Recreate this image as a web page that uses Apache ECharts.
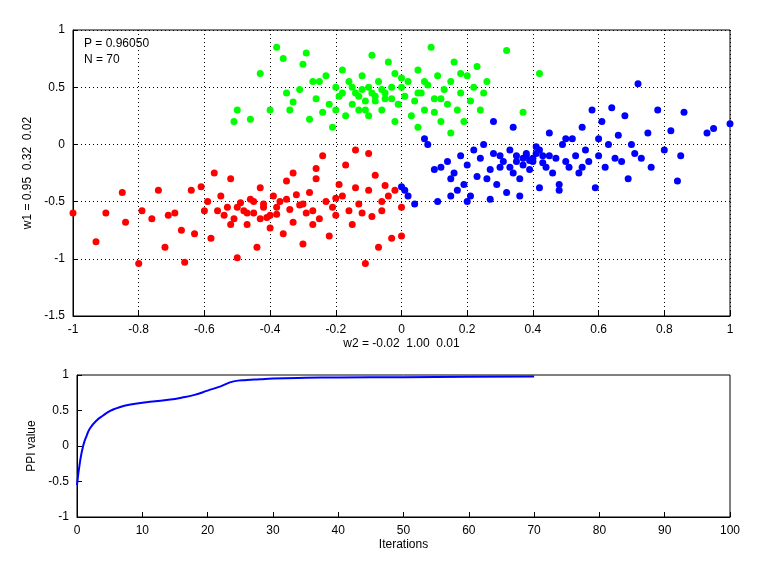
<!DOCTYPE html>
<html>
<head>
<meta charset="utf-8">
<script src="https://cdn.jsdelivr.net/npm/echarts@6/dist/echarts.min.js"></script>
<style>html,body{margin:0;padding:0;background:#fff}#c{width:768px;height:576px}</style>
</head>
<body>
<div id="c"></div>
<script>
// cluster points (x = w2 projection, y = w1 projection)
var redPts=[[-1,-0.6],[-0.93,-0.85],[-0.9,-0.6],[-0.85,-0.42],[-0.84,-0.68],[-0.8,-1.04],[-0.79,-0.58],
[-0.76,-0.65],[-0.74,-0.4],[-0.72,-0.9],[-0.71,-0.62],[-0.69,-0.6],[-0.67,-0.75],[-0.66,-1.03],[-0.63,-0.78],
[-0.61,-0.37],[-0.6,-0.58],[-0.59,-0.5],[-0.58,-0.82],[-0.57,-0.25],[-0.55,-0.45],[-0.54,-0.62],[-0.53,-0.55],
[-0.52,-0.3],[-0.51,-0.65],[-0.5,-0.99],[-0.49,-0.51],[-0.48,-0.58],[-0.47,-0.7],[-0.46,-0.48],[-0.45,-0.6],
[-0.44,-0.9],[-0.43,-0.38],[-0.42,-0.55],[-0.41,-0.64],[-0.4,-0.73],[-0.39,-0.45],[-0.38,-0.61],[-0.37,-0.5],
[-0.36,-0.78],[-0.35,-0.32],[-0.34,-0.57],[-0.33,-0.68],[-0.32,-0.44],[-0.31,-0.53],[-0.3,-0.87],[-0.29,-0.6],
[-0.28,-0.42],[-0.27,-0.58],[-0.26,-0.3],[-0.25,-0.65],[-0.24,-0.1],[-0.23,-0.5],[-0.22,-0.8],[-0.21,-0.55],
[-0.2,-0.62],[-0.19,-0.35],[-0.18,-0.45],[-0.17,-0.18],[-0.16,-0.58],[-0.15,-0.7],[-0.14,-0.38],[-0.13,-0.52],
[-0.12,-0.6],[-0.11,-1.04],[-0.1,-0.4],[-0.09,-0.63],[-0.08,-0.27],[-0.07,-0.9],[-0.06,-0.58],[-0.05,-0.36],
[-0.04,-0.45],[-0.03,-0.82],[-0.02,-0.4],[0,-0.8],[-0.26,-0.21],[-0.33,-0.25],[-0.43,-0.65],[-0.38,-0.55],
[-0.47,-0.6],[-0.52,-0.7],[-0.56,-0.58],[-0.45,-0.5],[-0.4,-0.62],[-0.35,-0.48],[-0.3,-0.52],[-0.5,-0.55],
[-0.14,-0.05],[-0.1,-0.08],[-0.2,-0.47],[-0.27,-0.7],[-0.64,-0.4],[-0.06,-0.5],[0.0,-0.55],[-0.42,-0.52]];
var greenPts=[[-0.5,0.3],[-0.51,0.2],[-0.43,0.62],[-0.38,0.85],[-0.36,0.75],[-0.35,0.45],
[-0.34,0.3],[-0.33,0.37],[-0.31,0.48],[-0.3,0.7],[-0.29,0.8],[-0.28,0.22],[-0.26,0.4],[-0.25,0.55],[-0.24,0.28],
[-0.23,0.6],[-0.22,0.35],[-0.21,0.15],[-0.2,0.5],[-0.19,0.42],[-0.18,0.65],[-0.17,0.25],[-0.16,0.55],[-0.15,0.35],
[-0.14,0.45],[-0.13,0.3],[-0.12,0.6],[-0.11,0.38],[-0.1,0.5],[-0.09,0.78],[-0.08,0.42],[-0.07,0.55],[-0.06,0.3],
[-0.05,0.45],[-0.04,0.72],[-0.03,0.4],[-0.02,0.62],[-0.01,0.35],[0,0.5],[0.01,0.42],[0.02,0.55],[0.03,0.25],
[0.04,0.38],[0.05,0.65],[0.06,0.45],[0.07,0.3],[0.08,0.52],[0.09,0.85],[0.1,0.4],[0.11,0.6],[0.12,0.2],
[0.13,0.48],[0.14,0.35],[0.15,0.55],[0.16,0.72],[0.17,0.3],[0.18,0.45],[0.19,0.2],[0.2,0.6],[0.21,0.38],
[0.22,0.5],[0.23,0.68],[0.24,0.3],[0.25,0.45],[0.26,0.55],[0.32,0.82],[0.37,0.28],[0.42,0.62],[-0.27,0.55],
[-0.12,0.48],[-0.08,0.38],[-0.03,0.5],[0.05,0.45],[0.12,0.4],[-0.15,0.5],[-0.05,0.4],[0.0,0.58],[0.18,0.62],
[-0.2,0.3],[0.1,0.28],[0.05,0.15],[-0.1,0.25],[0.15,0.1],[-0.02,0.2],[0.07,0.55],[-0.18,0.45],
[-0.46,0.22],[-0.4,0.3],[-0.13,0.42],[-0.09,0.45],[-0.06,0.48],[-0.11,0.3]];
var bluePts=[[0,-0.37],[0.01,-0.4],[0.02,-0.45],[0.04,-0.52],[0.07,0.05],[0.08,0.0],[0.1,-0.22],[0.11,-0.5],
[0.12,-0.2],[0.14,-0.15],[0.15,-0.3],[0.16,-0.25],[0.17,-0.4],[0.18,-0.1],[0.19,-0.35],[0.2,-0.18],[0.21,-0.45],
[0.22,-0.05],[0.23,-0.28],[0.24,-0.12],[0.25,0.0],[0.26,-0.3],[0.27,-0.22],[0.28,-0.08],[0.29,-0.35],[0.3,-0.2],
[0.31,-0.15],[0.32,-0.42],[0.33,-0.05],[0.34,-0.25],[0.35,-0.1],[0.36,-0.3],[0.37,-0.18],[0.38,-0.08],[0.39,-0.22],
[0.4,-0.12],[0.41,-0.02],[0.42,-0.38],[0.43,-0.1],[0.44,-0.2],[0.45,0.1],[0.46,-0.25],[0.47,-0.12],[0.48,-0.35],
[0.49,0.0],[0.5,-0.15],[0.51,-0.2],[0.52,0.05],[0.53,-0.1],[0.54,-0.25],[0.55,0.15],[0.56,-0.05],[0.57,-0.15],
[0.58,0.3],[0.59,-0.38],[0.6,-0.1],[0.61,0.2],[0.62,-0.2],[0.63,0.0],[0.64,0.32],[0.65,-0.12],[0.66,0.08],
[0.67,-0.15],[0.68,0.25],[0.69,-0.3],[0.7,0.0],[0.71,-0.08],[0.72,0.53],[0.73,-0.12],[0.75,0.1],[0.76,-0.2],
[0.78,0.3],[0.8,-0.05],[0.82,0.12],[0.84,-0.32],[0.86,0.28],[0.93,0.1],[0.95,0.14],[1,0.18],[0.85,-0.1],
[0.38,-0.1],[0.4,-0.15],[0.42,-0.05],[0.35,-0.15],[0.45,-0.1],[0.3,-0.1],[0.5,0.05],[0.55,-0.2],[0.6,0.05],
[0.27,-0.48],[0.15,-0.45],[0.2,-0.5],[0.36,-0.45],[0.48,-0.4],[0.28,0.2],[0.34,0.15],
[0.39,-0.14],[0.41,-0.08],[0.37,-0.12],[0.43,-0.16],[0.33,-0.2]];
var iterX=[0,0.5,1,1.5,2,3,4,5,6,7,8,10,12,14,16,18,20,22,24,26,28,30,35,40,50,60,70];
var ppiY=[-0.55,-0.2,0.02,0.15,0.25,0.36,0.43,0.49,0.53,0.56,0.58,0.61,0.63,0.65,0.68,0.72,0.78,0.84,0.91,0.93,0.94,0.95,0.96,0.965,0.97,0.975,0.98];
var pText='P = 0.96050';
var nText='N = 70';

var ch=echarts.init(document.getElementById('c'));
var F='Liberation Sans, Arial, sans-serif';
function ax(o){
  var base={axisLine:{onZero:false,lineStyle:{color:'#000'}},axisTick:{inside:true,length:5,lineStyle:{color:'#000'}},
    axisLabel:{color:'#000',fontFamily:F,fontSize:12},nameTextStyle:{color:'#000',fontFamily:F,fontSize:12}};
  for(var k in o) base[k]=o[k];
  return base;
}
var dotted={show:true,lineStyle:{color:'#000',type:[1,3],width:1}};
var line=[];
for(var i=0;i<iterX.length;i++) line.push([iterX[i],ppiY[i]]);
ch.setOption({
  animation:false,
  grid:[{left:73,right:38,top:30,bottom:260,show:true,borderColor:'#000',borderWidth:1},
        {left:77,right:38,top:375,bottom:59,show:true,borderColor:'#000',borderWidth:1}],
  xAxis:[ax({gridIndex:0,min:-1,max:1,interval:0.2,splitLine:dotted,name:'w2 = -0.02  1.00  0.01',nameLocation:'middle',nameGap:22,
           axisLabel:{color:'#000',fontFamily:F,fontSize:12,formatter:function(v){return Math.round(v*10)/10;}}}),
         ax({gridIndex:1,min:0,max:100,interval:10,splitLine:{show:false},name:'Iterations',nameLocation:'middle',nameGap:22})],
  yAxis:[ax({gridIndex:0,min:-1.5,max:1,interval:0.5,splitLine:dotted,name:'w1 = 0.95  0.32  0.02',nameLocation:'middle',nameGap:28}),
         ax({gridIndex:1,min:-1,max:1,interval:0.5,splitLine:{show:false},name:'PPI value',nameLocation:'middle',nameGap:28})],
  graphic:[{type:'text',left:84,top:36,style:{text:pText+'\n'+nText,font:'12px '+F,fill:'#000',lineHeight:16}}],
  series:[
    {type:'scatter',xAxisIndex:0,yAxisIndex:0,data:redPts,symbolSize:7,itemStyle:{color:'#ff0000',opacity:1}},
    {type:'scatter',xAxisIndex:0,yAxisIndex:0,data:greenPts,symbolSize:7,itemStyle:{color:'#00ff00',opacity:1}},
    {type:'scatter',xAxisIndex:0,yAxisIndex:0,data:bluePts,symbolSize:7,itemStyle:{color:'#0000ff',opacity:1}},
    {type:'line',xAxisIndex:1,yAxisIndex:1,data:line,showSymbol:false,smooth:true,lineStyle:{color:'#0000ff',width:2}}
  ]
});
</script>
</body>
</html>
